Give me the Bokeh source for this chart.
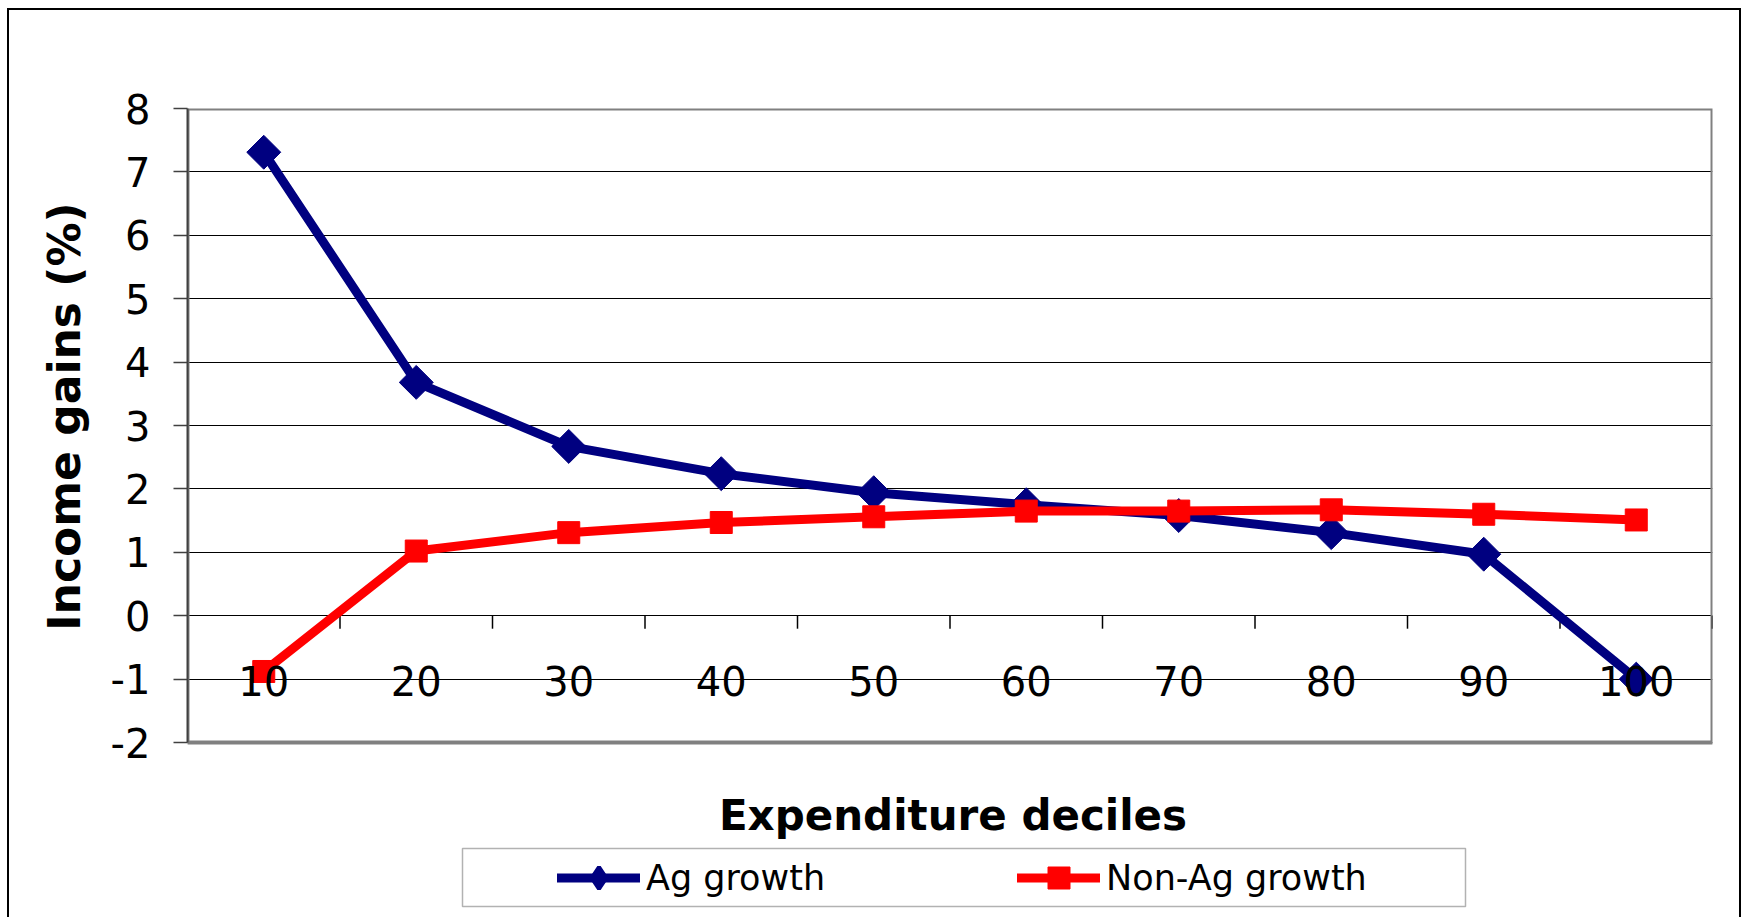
import math

from bokeh.core.properties import value
from bokeh.embed import file_html
from bokeh.models import (BoxAnnotation, ColumnDataSource, FixedTicker, Legend,
                          LegendItem, Range1d, Title)
from bokeh.plotting import figure
from bokeh.resources import INLINE

# ---- data -------------------------------------------------------------
deciles = [10, 20, 30, 40, 50, 60, 70, 80, 90, 100]
decile_labels = ["10", "20", "30", "40", "50", "60", "70", "80", "90", "100"]
ag_growth = [7.31, 3.68, 2.67, 2.24, 1.94, 1.75, 1.58, 1.31, 0.97, -1.00]
non_ag_growth = [-0.88, 1.02, 1.31, 1.47, 1.56, 1.65, 1.65, 1.67, 1.60, 1.51]
y_ticks = [-2, -1, 0, 1, 2, 3, 4, 5, 6, 7, 8]

# ---- layout -----------------------------------------------------------
W, H = 1746, 917
# plot area (axes box) in canvas pixels; the drawing frame runs on to the
# bottom of the canvas so the axis title and legend can live inside it
AX_L, AX_R, AX_T, AX_B = 187, 1712, 108, 742
X_MIN, X_MAX = 5, 105
Y_MIN, Y_MAX = -2, 8
PX_PER_Y = (AX_B - AX_T) / (Y_MAX - Y_MIN)
Y_FRAME_MIN = Y_MAX - (H - AX_T) / PX_PER_Y
FONT = "DejaVu Sans"


def px_x(px):
    """Canvas pixel column -> x data coordinate."""
    return X_MIN + (px - AX_L) * (X_MAX - X_MIN) / (AX_R - AX_L)


def px_y(py):
    """Canvas pixel row -> y data coordinate."""
    return Y_MAX - (py - AX_T) / PX_PER_Y


# outer chart border, painted on the page element behind the canvas
rules = [  # (x, y, w, h)
    (7, 8, 2, H),
    (7, 8, 1734, 2),
    (1739, 8, 2, H),
]
page_styles = {
    "background-color": "white",
    "background-image": ", ".join(["linear-gradient(#000, #000)"] * len(rules)),
    "background-repeat": "no-repeat",
    "background-position": ", ".join(f"{x}px {y}px" for x, y, _, _ in rules),
    "background-size": ", ".join(f"{w}px {h}px" for _, _, w, h in rules),
}

src = ColumnDataSource(dict(x=deciles, ag=ag_growth, nonag=non_ag_growth,
                            lab=decile_labels, zero=[0] * len(deciles)))

p = figure(width=W, height=H,
           x_range=Range1d(X_MIN, X_MAX), y_range=Range1d(Y_FRAME_MIN, Y_MAX),
           output_backend="svg", toolbar_location=None,
           min_border_left=AX_L, min_border_right=W - AX_R,
           min_border_top=AX_T, min_border_bottom=0,
           styles=page_styles)
p.background_fill_color = None
p.border_fill_color = None
p.outline_line_color = None
p.xaxis.visible = False

# grid
p.xgrid.visible = False
p.ygrid.ticker = FixedTicker(ticks=y_ticks)
p.ygrid.grid_line_color = "black"
p.ygrid.grid_line_width = 1

# y axis
ya = p.yaxis[0]
ya.ticker = FixedTicker(ticks=y_ticks)
ya.bounds = (Y_MIN, Y_MAX)
ya.major_label_overrides = {t: str(t) for t in y_ticks}
ya.major_tick_out = 14
ya.major_tick_in = 0
ya.minor_tick_out = 0
ya.minor_tick_in = 0
ya.major_tick_line_color = "#404040"
ya.major_tick_line_width = 1.5
ya.axis_line_color = "#404040"
ya.axis_line_width = 2
ya.major_label_standoff = 23
ya.major_label_text_font = FONT
ya.major_label_text_font_size = "40px"
ya.major_label_text_color = "black"

# y axis title, centred on the axes box rather than the whole frame
y_title_font = 44
y_title_len = 9.74 * y_title_font
y_title_mid = 416
p.add_layout(Title(text="Income gains (%)", align="left",
                   offset=H - (y_title_mid + y_title_len / 2), standoff=36,
                   text_font=FONT, text_font_style="bold",
                   text_font_size=f"{y_title_font}px", text_color="black"),
             "left")

# axes box
p.quad(left=X_MIN, right=X_MAX, bottom=Y_MIN, top=Y_MAX,
       fill_color=None, line_color="#808080", line_width=4)

# category separators hanging below the zero line
bounds = [d + 5 for d in deciles]
tick_len = 13 / PX_PER_Y
p.segment(x0=bounds, y0=[0] * len(bounds), x1=bounds,
          y1=[-tick_len] * len(bounds), line_color="black", line_width=1.5)

# series
NAVY, RED = "#000080", "#FF0000"
LW = 9
ag_line = p.line("x", "ag", source=src, line_color=NAVY, line_width=LW,
                 line_cap="round", line_join="round")
# upright diamond core (also serves as the legend key, since legend
# markers are drawn unrotated), covered by the rotated-square marker
ag_key = p.scatter("x", "ag", source=src, marker="diamond", size=20,
                   fill_color=NAVY, line_color=NAVY, line_width=4)
p.scatter("x", "ag", source=src, marker="square", angle=math.pi / 4,
          size=24, fill_color=NAVY, line_color=NAVY)
non_line = p.line("x", "nonag", source=src, line_color=RED, line_width=LW,
                  line_cap="round", line_join="round")
non_pts = p.scatter("x", "nonag", source=src, marker="square", size=22,
                    fill_color=RED, line_color=RED)

# category labels, hung from the zero line
p.text("x", "zero", text="lab", source=src, text_align="center",
       text_baseline="alphabetic", y_offset=65,
       text_font=value(FONT), text_font_size="40px", text_color="black")

# x axis title
p.text(x=[(X_MIN + X_MAX) / 2], y=[Y_MIN], text=["Expenditure deciles"],
       x_offset=3, y_offset=73, text_align="center",
       text_baseline="alphabetic", text_font=value(FONT),
       text_font_style="bold", text_font_size="42px", text_color="black")

# legend box and legend
p.add_layout(BoxAnnotation(left=px_x(462), right=px_x(1465),
                           top=px_y(848), bottom=px_y(906),
                           fill_color="white", fill_alpha=1,
                           line_color="black", line_width=1.5))
legend = Legend(items=[LegendItem(label="Ag growth", renderers=[ag_line, ag_key]),
                       LegendItem(label="Non-Ag growth", renderers=[non_line, non_pts])],
                orientation="horizontal",
                location=(557 - AX_L, H - 905),
                padding=0, spacing=192, margin=0,
                glyph_width=83, glyph_height=55, label_standoff=6,
                label_text_font=FONT, label_text_font_size="35px",
                label_text_color="black", label_text_baseline="middle",
                border_line_color=None, background_fill_alpha=0)
p.add_layout(legend)

open("out.html", "w").write(file_html(p, INLINE))
